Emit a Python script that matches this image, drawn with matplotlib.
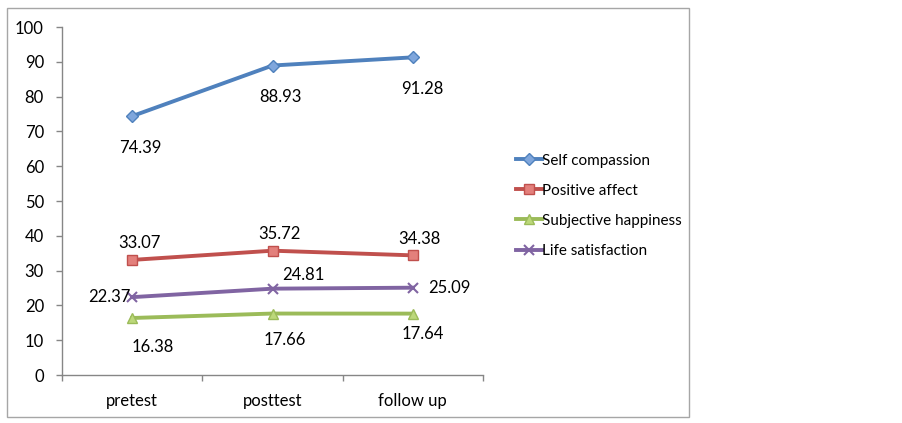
import matplotlib
matplotlib.use('Agg')
import matplotlib.pyplot as plt
from matplotlib.patches import Rectangle

plt.rcParams['font.family'] = ['Lato', 'DejaVu Sans']

# data
phases = ['pretest', 'posttest', 'follow up']
self_compassion = [74.39, 88.93, 91.28]
positive_affect = [33.07, 35.72, 34.38]
subjective_happiness = [16.38, 17.66, 17.64]
life_satisfaction = [22.37, 24.81, 25.09]

series = [
    ('Self compassion', self_compassion, '#4f81bd', '#7fa6dc', 'D', 6.5),
    ('Positive affect', positive_affect, '#c0504d', '#e3807c', 's', 6.5),
    ('Subjective happiness', subjective_happiness, '#9bbb59', '#bcd87a', '^', 7.5),
    ('Life satisfaction', life_satisfaction, '#8064a2', '#8064a2', 'x', 7),
]

# label offsets in points (dx, dy, ha) per series/point
label_offsets = [
    [(6, -23, 'center'), (6, -23, 'center'), (7, -23, 'center')],
    [(5, 12, 'center'), (5, 12, 'center'), (5, 12, 'center')],
    [(15, -21, 'center'), (9, -19, 'center'), (7, -15, 'center')],
    [(-1, 0, 'right'), (22, 10, 'center'), (11, 0, 'left')],
]

W, H = 903, 423
fig = plt.figure(figsize=(W / 100, H / 100), dpi=100)
ax = fig.add_axes([62 / W, 48 / H, 421 / W, 348 / H])

x = list(range(len(phases)))
for (name, vals, col, mcol, mk, ms), offs in zip(series, label_offsets):
    ax.plot(x, vals, color=col, lw=2.8, marker=mk, ms=ms,
            markerfacecolor=mcol, markeredgecolor=col if mk != 'x' else mcol,
            markeredgewidth=1 if mk != 'x' else 1.5, label=name, zorder=3)
    for xi, v, (dx, dy, ha) in zip(x, vals, offs):
        ax.annotate(f'{v:.2f}', (xi, v), xytext=(dx, dy), textcoords='offset points',
                    ha=ha, va='center', fontsize=12, color='black')

ax.set_xlim(-0.5, 2.5)
ax.set_ylim(0, 100)
ax.set_yticks(range(0, 101, 10))
ax.set_xticks(x)
ax.set_xticklabels(phases)
ax.set_xticks([-0.5, 0.5, 1.5, 2.5], minor=True)
ax.tick_params(axis='x', which='major', length=0, pad=13, labelsize=12)
ax.tick_params(axis='x', which='minor', length=4, color='#868686', width=1, direction='out')
ax.tick_params(axis='y', length=4, color='#868686', width=1, direction='out', pad=9, labelsize=12)

for s in ['top', 'right']:
    ax.spines[s].set_visible(False)
for s in ['left', 'bottom']:
    ax.spines[s].set_color('#868686')
    ax.spines[s].set_linewidth(1)

leg = ax.legend(loc='upper left', bbox_to_anchor=(502 / W, 1 - 140 / H),
                bbox_transform=fig.transFigure, frameon=False, fontsize=11,
                handlelength=1.7, handletextpad=0.0, labelspacing=1.05)

# chart border
fig.patches.append(Rectangle((7 / W, 1 - 417 / H), 682 / W, 409 / H, transform=fig.transFigure,
                             fill=False, edgecolor='#a6a6a6', lw=1))

fig.savefig('out.png', dpi=100)
